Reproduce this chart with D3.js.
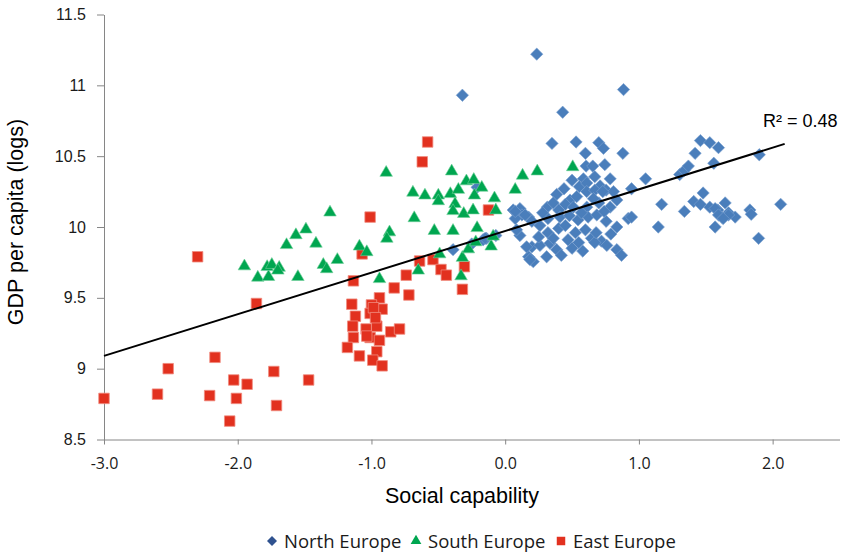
<!DOCTYPE html>
<html>
<head>
<meta charset="utf-8">
<script src="https://cdn.jsdelivr.net/npm/d3@7"></script>
<style>
  body { margin: 0; background: #fff; }
  .tick text { fill: #1a1a1a; }
</style>
</head>
<body>
<script>
// series: [social capability, GDP per capita (logs)]
const north = [
  [0.236,11.22],[0.885,10.97],[0.43,10.81],[-0.32,10.93],[0.35,10.59],[0.53,10.60],[0.70,10.595],[0.735,10.555],
  [0.60,10.52],[0.88,10.52],[0.605,10.43],[0.655,10.43],[0.745,10.44],[0.785,10.34],[0.585,10.34],[0.67,10.355],
  [0.385,10.23],[0.555,10.285],[0.61,10.31],[0.71,10.29],[0.755,10.26],[0.81,10.25],[0.945,10.27],[1.05,10.34],
  [1.17,10.16],[1.145,10.0],[1.34,10.11],[1.305,10.37],[1.34,10.40],[1.37,10.43],[1.46,10.61],[1.53,10.595],
  [1.595,10.56],[1.42,10.52],[1.56,10.45],[1.48,10.24],[1.41,10.18],[1.46,10.16],[1.53,10.14],[1.59,10.12],
  [1.645,10.17],[1.67,10.10],[1.72,10.07],[1.62,10.07],[1.57,10.0],[1.83,10.12],[1.84,10.09],[1.895,9.92],
  [1.90,10.51],[2.06,10.16],[0.61,10.25],[0.67,10.26],[0.73,10.25],[0.485,10.19],[0.535,10.215],[0.45,10.16],
  [0.51,10.14],[0.61,10.14],[0.70,10.17],[0.785,10.14],[0.835,10.19],[0.315,10.14],[0.40,10.12],[0.32,10.06],
  [0.41,10.07],[0.48,10.08],[0.545,10.05],[0.62,10.07],[0.685,10.085],[0.755,10.04],[0.835,10.0],[0.92,10.06],
  [0.06,10.12],[0.11,10.13],[0.125,10.085],[0.175,10.07],[0.20,10.04],[0.075,10.06],[0.26,10.01],[0.32,9.96],
  [0.40,9.99],[0.45,10.01],[0.525,9.96],[0.60,9.98],[0.645,9.92],[0.72,9.90],[0.67,9.89],[0.76,9.87],
  [0.835,9.84],[0.87,9.80],[0.20,9.86],[0.26,9.87],[0.175,9.79],[0.21,9.755],[0.335,9.885],[0.385,9.84],
  [0.42,9.80],[0.31,9.79],[0.11,9.94],[0.085,9.98],[-0.14,9.92],[-0.165,9.91],[-0.39,9.84],[-0.25,9.88],
  [-0.15,9.92],[-0.07,9.94],[0.075,10.11],[0.15,10.085],[0.16,9.86],[0.185,9.77],[-0.21,10.28],[1.57,10.13],
  [1.595,10.085],[1.67,10.085],[1.63,10.06],[0.945,10.07],[0.25,9.93],[0.36,9.92],[0.47,9.91],[0.55,9.89],
  [0.50,9.85],[0.58,9.83],[0.28,10.10],[0.36,10.17],[0.66,10.20],[0.50,10.33],[0.44,10.27],[0.74,10.11],
  [0.57,10.10],[0.68,9.96],[0.79,9.95]
];
const south = [
  [-1.95,9.73],[-1.85,9.65],[-1.77,9.655],[-1.78,9.725],[-1.745,9.74],[-1.69,9.72],[-1.70,9.70],[-1.635,9.88],
  [-1.565,9.95],[-1.55,9.655],[-1.49,9.99],[-1.415,9.89],[-1.31,10.11],[-1.36,9.74],[-1.335,9.71],[-1.255,9.775],
  [-1.09,9.87],[-1.035,9.83],[-0.89,10.39],[-0.865,9.97],[-0.885,9.925],[-0.69,10.25],[-0.60,10.23],[-0.68,10.07],
  [-0.53,9.98],[-0.50,10.23],[-0.50,10.19],[-0.40,10.40],[-0.41,10.24],[-0.35,10.27],[-0.375,10.17],[-0.39,10.12],
  [-0.31,10.10],[-0.39,9.98],[-0.29,10.33],[-0.235,10.34],[-0.175,10.285],[-0.23,10.23],[-0.24,10.125],[-0.08,10.21],
  [-0.07,10.125],[-0.21,10.0],[-0.105,9.87],[-0.49,9.815],[-0.32,9.79],[-0.65,9.70],[-0.33,9.66],[-0.275,9.85],
  [-0.94,9.64],[0.075,10.27],[0.13,10.37],[0.24,10.40],[0.505,10.43],[-0.22,9.90],[-0.09,9.94]
];
const east = [
  [-2.30,9.79],[-1.86,9.46],[-2.17,9.08],[-2.52,9.00],[-3.00,8.79],[-2.60,8.82],[-2.21,8.81],[-2.03,8.92],
  [-2.01,8.79],[-1.93,8.89],[-2.06,8.63],[-1.73,8.98],[-1.71,8.74],[-1.47,8.92],[-1.135,9.62],[-1.147,9.455],
  [-1.12,9.37],[-1.14,9.30],[-1.135,9.22],[-1.18,9.15],[-1.09,9.09],[-0.94,9.50],[-1.00,9.45],[-0.92,9.42],
  [-1.01,9.39],[-1.04,9.28],[-0.96,9.30],[-1.01,9.22],[-0.94,9.20],[-0.856,9.26],[-0.79,9.28],[-0.96,9.12],
  [-0.99,9.06],[-0.92,9.02],[-0.83,9.57],[-0.72,9.52],[-0.74,9.66],[-0.64,9.76],[-0.54,9.77],[-0.48,9.70],
  [-0.44,9.66],[-0.305,9.72],[-0.32,9.56],[-1.07,9.81],[-0.58,10.60],[-0.62,10.46],[-1.01,10.07],[-0.125,10.12],
  [-0.985,9.43],[-0.97,9.36],[-1.035,9.23]
];

const categories = ["North Europe", "South Europe", "East Europe"];
const xTicks = [-3, -2, -1, 0, 1, 2];
const yTicks = [8.5, 9, 9.5, 10, 10.5, 11, 11.5];

// linear trend
const trendIntercept = 9.972;
const trendSlope = 0.294;
const trendRange = [-3.0, 2.09];
const rSquared = "R² = 0.48";

const W = 844, H = 554;
const svg = d3.select("body").append("svg")
    .attr("width", W)
    .attr("height", H);

const x = d3.scaleLinear().domain([-3, 2.5]).range([104, 839.5]);
const y = d3.scaleLinear().domain([8.5, 11.5]).range([439.5, 14.5]);

// axes
const gx = svg.append("g")
    .attr("transform", "translate(0,439.5)")
    .call(d3.axisBottom(x).tickValues(xTicks).tickFormat(d => d.toFixed(1))
      .tickSize(5).tickSizeOuter(0).tickPadding(13));
gx.selectAll("text").style("font-family", "'Open Sans', sans-serif").style("font-size", "16px");

const gy = svg.append("g")
    .attr("transform", "translate(104,0)")
    .call(d3.axisLeft(y).tickValues(yTicks).tickFormat(d => String(d))
      .tickSize(7).tickSizeOuter(0).tickPadding(11));
gy.selectAll("text").style("font-family", "'Liberation Sans', Arial, sans-serif").style("font-size", "16px");

svg.selectAll(".domain, .tick line").attr("stroke", "#868686");

// axis titles
svg.append("text")
    .attr("x", 462)
    .attr("y", 503)
    .attr("text-anchor", "middle")
    .style("font-family", "'Liberation Sans', Arial, sans-serif")
    .style("font-size", "21.5px")
    .text("Social capability");

svg.append("text")
    .attr("transform", "translate(23,222) rotate(-90)")
    .attr("text-anchor", "middle")
    .style("font-family", "'Liberation Sans', Arial, sans-serif")
    .style("font-size", "21.5px")
    .text("GDP per capita (logs)");

// markers
const diamond = d3.symbol().type(d3.symbolSquare).size(76);
const triangle = d3.symbol().type(d3.symbolTriangle).size(68);
const square = d3.symbol().type(d3.symbolSquare).size(110);

svg.append("g").selectAll("path")
  .data(north)
  .enter().append("path")
    .attr("d", diamond)
    .attr("transform", d => `translate(${x(d[0])},${y(d[1])}) rotate(45)`)
    .attr("fill", "#4a7ebb")
    .attr("stroke", "#7aa0d0")
    .attr("stroke-width", 0.6);

svg.append("g").selectAll("path")
  .data(east)
  .enter().append("path")
    .attr("d", square)
    .attr("transform", d => `translate(${x(d[0])},${y(d[1])})`)
    .attr("fill", "#e2311f")
    .attr("stroke", "#f08a7e")
    .attr("stroke-width", 0.8);

svg.append("g").selectAll("path")
  .data(south)
  .enter().append("path")
    .attr("d", triangle)
    .attr("transform", d => `translate(${x(d[0])},${y(d[1]) + 1})`)
    .attr("fill", "#00a650")
    .attr("stroke", "#6fd09a")
    .attr("stroke-width", 0.6);

// trend line
svg.append("line")
    .attr("x1", x(trendRange[0]))
    .attr("y1", y(trendIntercept + trendSlope * trendRange[0]))
    .attr("x2", x(trendRange[1]))
    .attr("y2", y(trendIntercept + trendSlope * trendRange[1]))
    .attr("stroke", "#000")
    .attr("stroke-width", 2);

svg.append("text")
    .attr("x", 763)
    .attr("y", 127)
    .style("font-family", "'Liberation Sans', Arial, sans-serif")
    .style("font-size", "18px")
    .text(rSquared);

// legend
const legendX = [272, 416, 561];
const legendSym = [
  d3.symbol().type(d3.symbolSquare).size(50),
  d3.symbol().type(d3.symbolTriangle).size(50),
  d3.symbol().type(d3.symbolSquare).size(72)
];
const legendColor = ["#2f528f", "#00a650", "#e2311f"];
const legend = svg.append("g").selectAll("g")
  .data(categories)
  .enter().append("g")
    .attr("transform", (d, i) => `translate(${legendX[i]},541)`);
legend.append("path")
    .attr("d", (d, i) => legendSym[i]())
    .attr("transform", (d, i) => i === 0 ? "rotate(45)" : "")
    .attr("fill", (d, i) => legendColor[i]);
legend.append("text")
    .attr("x", 12)
    .attr("y", 7)
    .style("font-family", "'Open Sans', sans-serif")
    .style("font-size", "18.5px")
    .style("fill", "#1a1a1a")
    .text(d => d);
</script>
</body>
</html>
